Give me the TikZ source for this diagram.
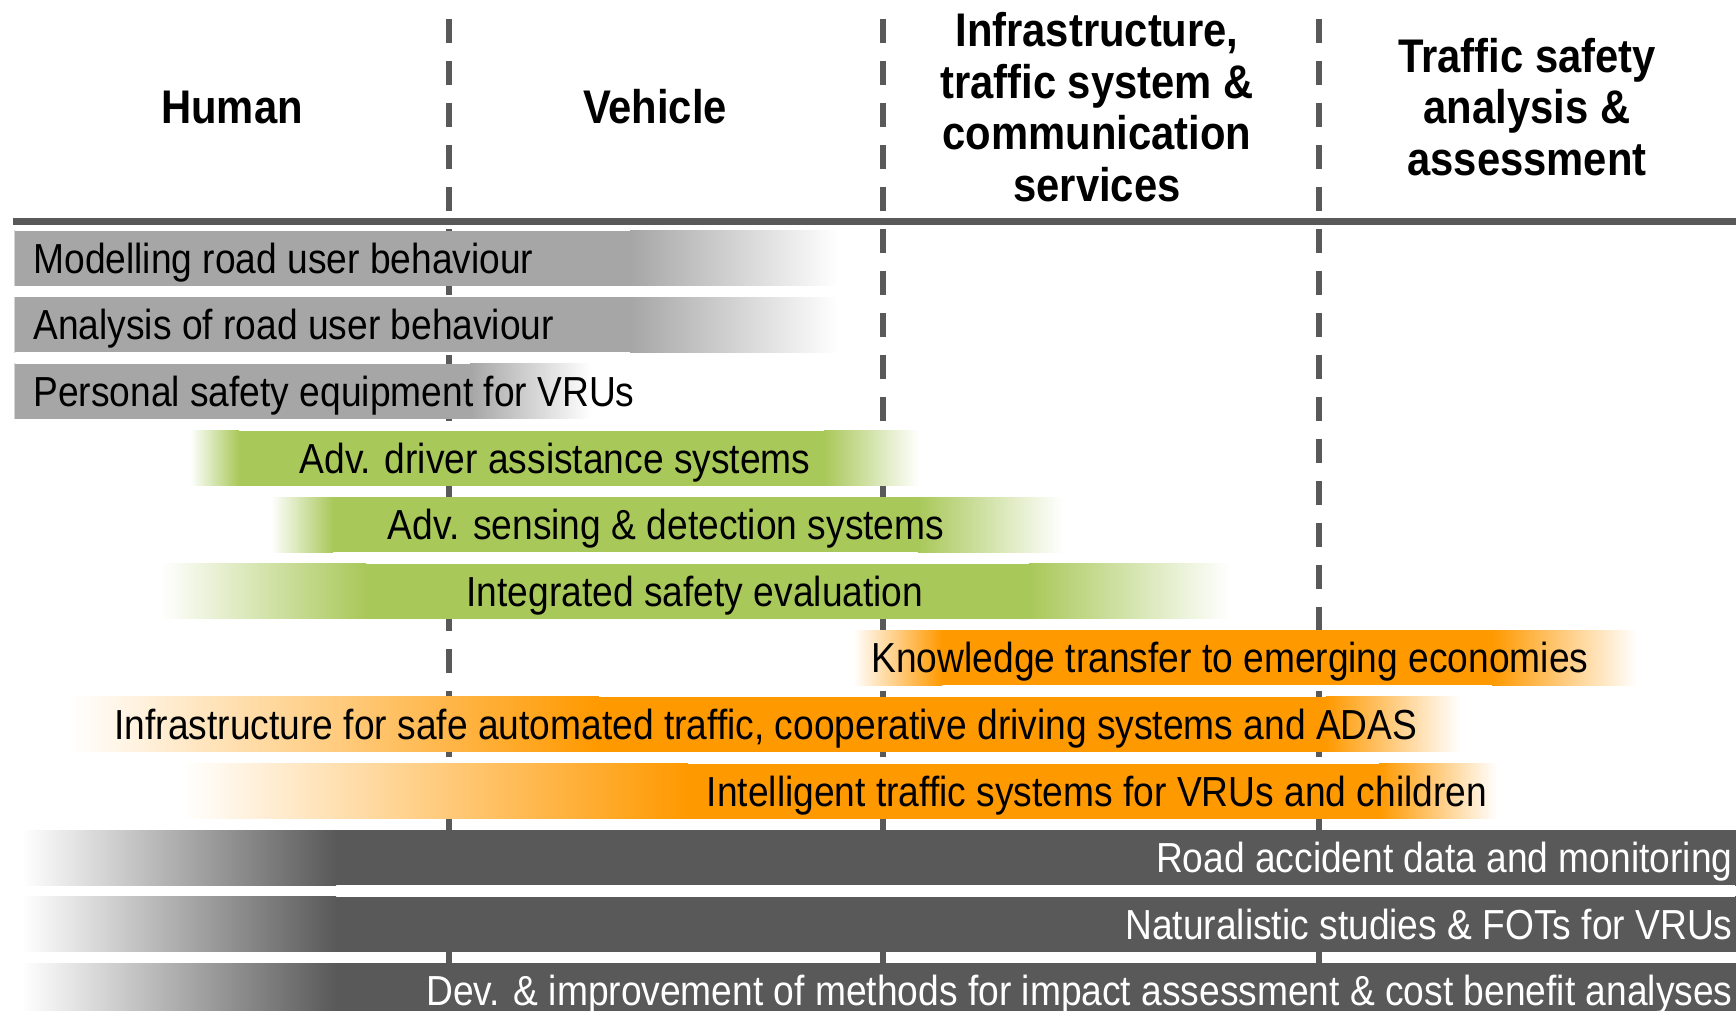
\documentclass[tikz,border=0pt]{standalone}
\usepackage{fontspec}
\setmainfont{Liberation Sans}[FakeStretch=0.885]
\usepackage{tikz}
\usetikzlibrary{positioning}
\definecolor{barlight}{RGB}{166,166,166}
\definecolor{bargreen}{RGB}{169,200,90}
\definecolor{barorange}{RGB}{255,153,0}
\definecolor{bardark}{RGB}{89,89,89}

\begin{document}
\begin{tikzpicture}[
    x=0.5pt, y=-0.5pt,
    hdr/.style={font=\fontsize{23.6}{25.8}\selectfont\bfseries, align=center},
    lbl/.style={font=\fontsize{21}{25}\selectfont, inner sep=0pt, anchor=base},
    sepline/.style={draw=bardark, line width=3.15pt, dash pattern=on 12pt off 9pt},
  ]
  \useasboundingbox (0,0) rectangle (1736,1011);
  \foreach \x in {449,883,1319}
    \draw[sepline] (\x,19.3) -- (\x,1011);
  \draw[bardark, line width=3.5pt] (13,221.5) -- (1736,221.5);
  \node[hdr] (h1) at (232,107) {Human};
  \node[hdr] (h2) at (655,107) {Vehicle};
  \node[hdr] (h3) at (1097,107) {Infrastructure,\\traffic system \&\\communication\\services};
  \node[hdr] (h4) at (1527,107) {Traffic safety\\analysis \&\\assessment};
  \foreach \i/\a/\b/\c/\d/\col in {1/13/14/631/838/barlight, 2/13/14/631/838/barlight, 3/13/14/471/591/barlight,
      4/190/238/825/919/bargreen, 5/271/332/919/1063/bargreen, 6/161/365/1030/1229/bargreen,
      7/853/941/1493/1637/barorange, 8/69/598/1327/1460/barorange, 9/183/687/1380/1497/barorange,
      10/22/335/1736/1740/bardark, 11/22/335/1736/1740/bardark, 12/22/335/1736/1740/bardark} {
    \pgfmathsetmacro\yt{230.7+66.6*(\i-1)}
    \fill[\col] (\b,\yt) rectangle (\c,\yt+55);
    \shade[left color=white, right color=\col] (\a,\yt) rectangle (\b+1,\yt+55);
    \shade[left color=\col, right color=white] (\c-1,\yt) rectangle (\d,\yt+55);
  }
  \node[lbl, anchor=base west] (r1) at (33,273.2) {Modelling road user behaviour};
  \node[lbl, anchor=base west] (r2) at (33,339.8) {Analysis of road user behaviour};
  \node[lbl, anchor=base west] (r3) at (33,406.4) {Personal safety equipment for VRUs};
  \node[lbl] (r4) at (555,473.0) {Adv. driver assistance systems};
  \node[lbl] (r5) at (666,539.6) {Adv. sensing \& detection systems};
  \node[lbl] (r6) at (695,606.2) {Integrated safety evaluation};
  \node[lbl] (r7) at (1230,672.8) {Knowledge transfer to emerging economies};
  \node[lbl] (r8) at (766,739.4) {Infrastructure for safe automated traffic, cooperative driving systems and ADAS};
  \node[lbl] (r9) at (1097,806.0) {Intelligent traffic systems for VRUs and children};
  \node[lbl, anchor=base east, text=white] (r10) at (1733,872.6) {Road accident data and monitoring};
  \node[lbl, anchor=base east, text=white] (r11) at (1733,939.2) {Naturalistic studies \& FOTs for VRUs};
  \node[lbl, anchor=base east, text=white] (r12) at (1733,1005.8) {Dev. \& improvement of methods for impact assessment \& cost benefit analyses};
\end{tikzpicture}
\end{document}
